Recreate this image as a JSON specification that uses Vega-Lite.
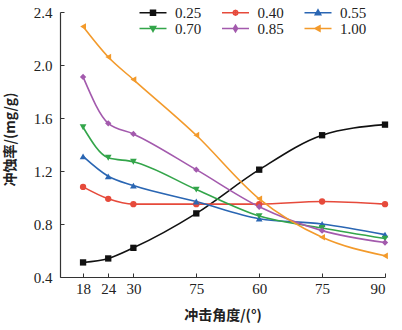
{
  "$schema": "https://vega.github.io/schema/vega-lite/v6.json",
  "width": 325,
  "height": 265,
  "autosize": {"type": "none"},
  "padding": {"left": 60, "top": 12, "right": 17, "bottom": 53},
  "background": "white",
  "config": {"view": {"stroke": null}, "font": "Liberation Serif"},
  "data": {"values": [
    {"k": "0.25", "x": 18, "y": 0.51}, {"k": "0.25", "x": 24, "y": 0.54}, {"k": "0.25", "x": 30, "y": 0.62}, {"k": "0.25", "x": 45, "y": 0.88}, {"k": "0.25", "x": 60, "y": 1.21}, {"k": "0.25", "x": 75, "y": 1.47}, {"k": "0.25", "x": 90, "y": 1.55},
    {"k": "0.40", "x": 18, "y": 1.08}, {"k": "0.40", "x": 24, "y": 0.99}, {"k": "0.40", "x": 30, "y": 0.95}, {"k": "0.40", "x": 45, "y": 0.95}, {"k": "0.40", "x": 60, "y": 0.95}, {"k": "0.40", "x": 75, "y": 0.97}, {"k": "0.40", "x": 90, "y": 0.95},
    {"k": "0.55", "x": 18, "y": 1.31}, {"k": "0.55", "x": 24, "y": 1.16}, {"k": "0.55", "x": 30, "y": 1.09}, {"k": "0.55", "x": 45, "y": 0.97}, {"k": "0.55", "x": 60, "y": 0.84}, {"k": "0.55", "x": 75, "y": 0.80}, {"k": "0.55", "x": 90, "y": 0.72},
    {"k": "0.70", "x": 18, "y": 1.53}, {"k": "0.70", "x": 24, "y": 1.30}, {"k": "0.70", "x": 30, "y": 1.27}, {"k": "0.70", "x": 45, "y": 1.06}, {"k": "0.70", "x": 60, "y": 0.86}, {"k": "0.70", "x": 75, "y": 0.77}, {"k": "0.70", "x": 90, "y": 0.69},
    {"k": "0.85", "x": 18, "y": 1.91}, {"k": "0.85", "x": 24, "y": 1.56}, {"k": "0.85", "x": 30, "y": 1.48}, {"k": "0.85", "x": 45, "y": 1.21}, {"k": "0.85", "x": 60, "y": 0.93}, {"k": "0.85", "x": 75, "y": 0.75}, {"k": "0.85", "x": 90, "y": 0.66},
    {"k": "1.00", "x": 18, "y": 2.29}, {"k": "1.00", "x": 24, "y": 2.06}, {"k": "1.00", "x": 30, "y": 1.89}, {"k": "1.00", "x": 45, "y": 1.47}, {"k": "1.00", "x": 60, "y": 0.99}, {"k": "1.00", "x": 75, "y": 0.70}, {"k": "1.00", "x": 90, "y": 0.56}
  ]},
  "encoding": {
    "x": {
      "field": "x", "type": "quantitative",
      "scale": {"domain": [12.5, 90], "nice": false, "zero": false},
      "axis": {
        "values": [18, 24, 30, 45, 60, 75, 90],
        "labelExpr": "datum.value == 45 ? '75' : datum.label",
        "grid": false, "tickSize": -4, "labelPadding": 8,
        "domainColor": "#333", "tickColor": "#333", "domainWidth": 1.2,
        "labelFont": "Liberation Serif", "labelFontSize": 15, "labelColor": "#222",
        "title": "冲击角度/(°)", "titleFont": "Noto Sans CJK SC", "titleFontSize": 14, "titleFontWeight": "bold", "titleColor": "#222", "titlePadding": 12
      }
    },
    "y": {
      "field": "y", "type": "quantitative",
      "scale": {"domain": [0.4, 2.4], "nice": false, "zero": false},
      "axis": {
        "values": [0.4, 0.8, 1.2, 1.6, 2.0, 2.4], "format": ".1f",
        "grid": false, "tickSize": -4, "labelPadding": 12,
        "domainColor": "#333", "tickColor": "#333", "domainWidth": 1.2,
        "labelFont": "Liberation Serif", "labelFontSize": 15, "labelColor": "#222",
        "title": "冲蚀率/(mg/g)", "titleFont": "Noto Sans CJK SC", "titleFontSize": 14, "titleFontWeight": "bold", "titleColor": "#222",
        "titleX": -43, "titleY": 127
      }
    }
  },
  "layer": [
    {"mark": {"type": "line", "interpolate": "monotone", "strokeWidth": 1.6},
     "encoding": {"stroke": {"field": "k", "type": "nominal", "legend": null,
      "scale": {"domain": ["0.25", "0.40", "0.55", "0.70", "0.85", "1.00"], "range": ["#111111", "#e64a3b", "#2a66b3", "#33a54a", "#a35aad", "#f39a2b"]}}}},
    {"transform": [{"filter": "datum.k == '0.25'"}], "mark": {"type": "point", "filled": true, "opacity": 1, "size": 40, "shape": "square", "color": "#111111"}},
    {"transform": [{"filter": "datum.k == '0.40'"}], "mark": {"type": "point", "filled": true, "opacity": 1, "size": 40, "shape": "circle", "color": "#e64a3b"}},
    {"transform": [{"filter": "datum.k == '0.55'"}], "mark": {"type": "point", "filled": true, "opacity": 1, "size": 45, "shape": "triangle-up", "color": "#2a66b3"}},
    {"transform": [{"filter": "datum.k == '0.70'"}], "mark": {"type": "point", "filled": true, "opacity": 1, "size": 45, "shape": "triangle-down", "color": "#33a54a"}},
    {"transform": [{"filter": "datum.k == '0.85'"}], "mark": {"type": "point", "filled": true, "opacity": 1, "size": 40, "shape": "diamond", "color": "#a35aad"}},
    {"transform": [{"filter": "datum.k == '1.00'"}], "mark": {"type": "point", "filled": true, "opacity": 1, "size": 45, "shape": "triangle-left", "color": "#f39a2b"}},
    {
      "mark": {"type": "point", "filled": false, "size": 0, "strokeWidth": 1.5},
      "encoding": {
        "color": {"field": "k", "type": "nominal",
          "scale": {"domain": ["0.25", "0.70", "0.40", "0.85", "0.55", "1.00"], "range": ["#111111", "#33a54a", "#e64a3b", "#a35aad", "#2a66b3", "#f39a2b"]},
          "legend": {
            "orient": "none", "legendX": 85.5, "legendY": -7, "columns": 3, "title": null,
            "padding": 0, "symbolSize": 100, "symbolStrokeWidth": 1.5, "symbolOpacity": 1,
            "labelOffset": 14.5, "columnPadding": 17.5, "rowPadding": 0,
            "labelFont": "Liberation Serif", "labelFontSize": 15, "labelColor": "#222"
          }},
        "shape": {"field": "k", "type": "nominal",
          "scale": {"domain": ["0.25", "0.70", "0.40", "0.85", "0.55", "1.00"], "range": [
            "M-2.7,0 H2.7 M-0.5,-0.5 H0.5 V0.5 H-0.5 Z M-0.2,-0.2 H0.2 V0.2 H-0.2 Z",
            "M-2.7,0 H2.7 M0,0.6 L0.55,-0.4 H-0.55 Z M0,0.2 L0.2,-0.2 H-0.2 Z",
            "M-2.7,0 H2.7 M0.5,0 L0.35,0.35 L0,0.5 L-0.35,0.35 L-0.5,0 L-0.35,-0.35 L0,-0.5 L0.35,-0.35 Z M0.2,0 L0,0.2 L-0.2,0 L0,-0.2 Z",
            "M-2.7,0 H2.7 M0,-0.65 L0.42,0 L0,0.65 L-0.42,0 Z M0,-0.25 L0.15,0 L0,0.25 L-0.15,0 Z",
            "M-2.7,0 H2.7 M0,-0.6 L0.55,0.4 H-0.55 Z M0,-0.2 L0.2,0.2 H-0.2 Z",
            "M-2.7,0 H2.7 M-0.6,0 L0.4,-0.55 V0.55 Z M-0.2,0 L0.2,-0.2 V0.2 Z"]},
          "legend": {
            "orient": "none", "legendX": 85.5, "legendY": -7, "columns": 3, "title": null,
            "padding": 0, "symbolSize": 100, "symbolStrokeWidth": 1.5, "symbolOpacity": 1,
            "labelOffset": 14.5, "columnPadding": 17.5, "rowPadding": 0,
            "labelFont": "Liberation Serif", "labelFontSize": 15, "labelColor": "#222"
          }
        }
      }
    }
  ]
}
